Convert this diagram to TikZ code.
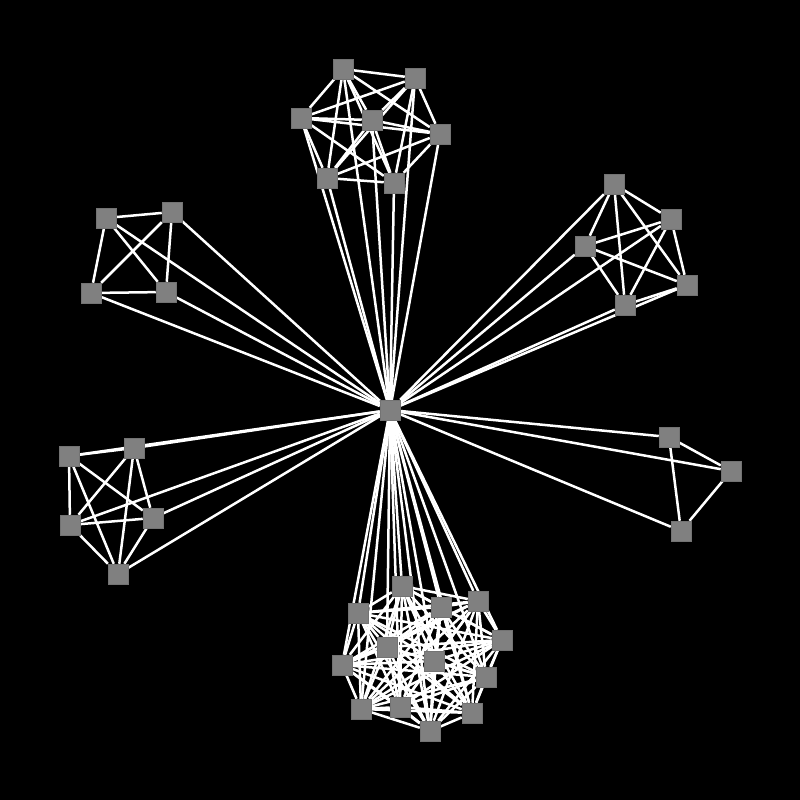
\documentclass[tikz,border=0pt]{standalone}
\usepackage{tikz}
\usetikzlibrary{backgrounds}
\tikzstyle{vertex}=[rectangle,fill=gray,draw=black!55,line width=.5pt,minimum size=20pt,inner sep=0pt]
\tikzstyle{link}=[white,line width=2.5pt]
\newcommand\clique[2]{%
  \foreach \i in {1,...,#2} {
    \draw[link] (hub) -- (#1\i);
    \foreach \j in {1,...,#2} {\ifnum\i<\j \draw[link] (#1\i) -- (#1\j);\fi}
  }}
\begin{document}
\begin{tikzpicture}[x=1pt,y=-1pt]
	\useasboundingbox (0,0) rectangle (800,800);
	\node[vertex] (hub) at (390,410) {};
	\foreach \p [count=\k] in {(343,69),(415,78),(301,118),(372,120),(440,134),(327,178),(394,183)}
		\node[vertex] (t\k) at \p {};
	\foreach \p [count=\k] in {(402,586),(358,613),(441,607),(478,601),(502,640),(387,647),(434,661),
			(342,665),(486,677),(361,709),(400,707),(472,713),(430,731)}
		\node[vertex] (b\k) at \p {};
	\foreach \p [count=\k] in {(106,218),(172,212),(91,293),(166,292)}
		\node[vertex] (a\k) at \p {};
	\foreach \p [count=\k] in {(614,184),(671,219),(585,246),(687,285),(625,305)}
		\node[vertex] (c\k) at \p {};
	\foreach \p [count=\k] in {(69,456),(134,448),(70,525),(153,518),(118,574)}
		\node[vertex] (l\k) at \p {};
	\foreach \p [count=\k] in {(669,437),(731,471),(681,531)}
		\node[vertex] (r\k) at \p {};
	\begin{pgfonlayer}{background}
		\fill[black] (0,0) rectangle (800,800);
		\clique{t}{7}
		\clique{b}{13}
		\clique{a}{4}
		\clique{c}{5}
		\clique{l}{5}
		\clique{r}{3}
	\end{pgfonlayer}
\end{tikzpicture}
\end{document}
